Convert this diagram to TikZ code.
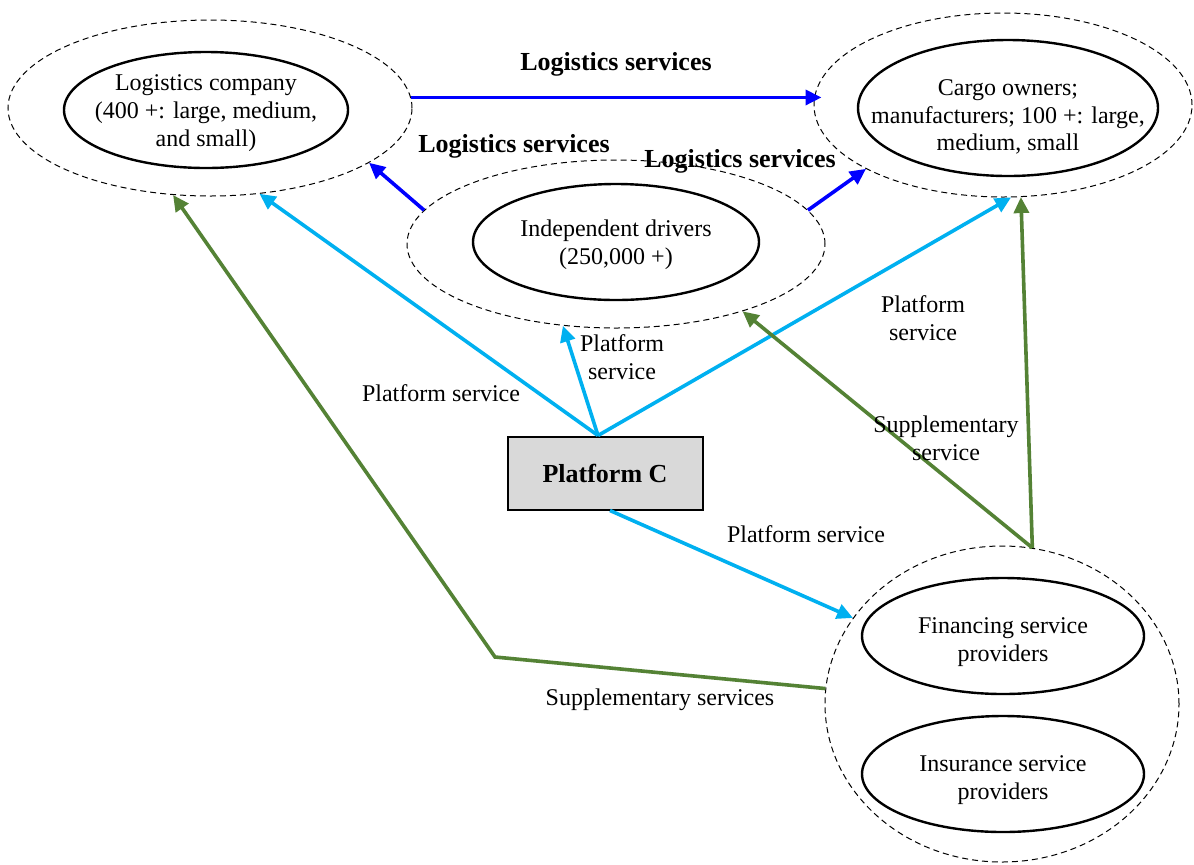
\documentclass[tikz,border=0pt]{standalone}
\usepackage{fontspec}
\setmainfont{Liberation Serif}
\usepackage{tikz}
\usetikzlibrary{arrows.meta,shapes.geometric,calc}
\definecolor{darkBlue}{HTML}{0000FF}
\definecolor{skyBlue}{HTML}{00B0F0}
\definecolor{oliveGreen}{HTML}{548235}
\definecolor{boxGray}{HTML}{D9D9D9}
\tikzset{
  outerEll/.style={ellipse,draw=black,dash pattern=on 3pt off 2pt,line width=0.5pt,inner sep=0pt},
  innerEll/.style={ellipse,draw=black,line width=1.2pt,inner sep=0pt},
  txt/.style={align=center,font=\fontsize{12}{13.8}\selectfont,inner sep=0pt},
  boldTxt/.style={font=\fontsize{13}{15}\selectfont\bfseries,inner sep=0pt},
  flow/.style={line width=1.8pt,-{Triangle[length=8pt,width=7.5pt]}},
  logiFlow/.style={flow,color=darkBlue},
  platFlow/.style={flow,color=skyBlue},
  suppFlow/.style={flow,color=oliveGreen},
}

\begin{document}
\begin{tikzpicture}[x=0.5pt,y=-0.5pt]
\useasboundingbox[fill=white] (0,0) rectangle (1194,864);

\node[outerEll,minimum width=202pt,minimum height=88pt] (lcOuter) at (210,108) {};
\node[innerEll,minimum width=142pt,minimum height=58pt] (lc) at (206,110) {};
\node[txt,yshift=-1.5pt] (lcText) at (lc) {Logistics company\\(400 +: large, medium,\\and small)};

\node[outerEll,minimum width=189pt,minimum height=92pt] (coOuter) at (1003,105) {};
\node[innerEll,minimum width=150pt,minimum height=68pt] (co) at (1008,108) {};
\node[txt,yshift=-4.5pt] (coText) at (co) {Cargo owners;\\manufacturers; 100 +: large,\\medium, small};

\node[outerEll,minimum width=209pt,minimum height=84pt] (drOuter) at (616,244) {};
\node[innerEll,minimum width=143pt,minimum height=58pt] (dr) at (616,242) {};
\node[txt,yshift=-1.5pt] (drText) at (dr) {Independent drivers\\(250,000 +)};

\node[outerEll,minimum width=177pt,minimum height=158pt] (finOuter) at (1002,704) {};
\node[innerEll,minimum width=141pt,minimum height=58pt] (fin) at (1003,636) {};
\node[txt,yshift=-3pt] (finText) at (fin) {Financing service\\providers};
\node[innerEll,minimum width=141pt,minimum height=58pt] (ins) at (1003,774) {};
\node[txt,yshift=-3pt] (insText) at (ins) {Insurance service\\providers};

\node[draw=black,line width=1pt,fill=boxGray,minimum width=97.5pt,minimum height=36.5pt,boldTxt] (pc) at (605,473) {Platform C};

\coordinate (bend) at (495,657);

\draw[logiFlow,shorten >=-4pt] (lcOuter.3) -- (lcOuter.3 -| coOuter.west);
\draw[logiFlow] (drOuter.170.3) -- (lcOuter.-19);
\draw[logiFlow] (drOuter.10.9) -- (coOuter.205.7);

\draw[platFlow] ([xshift=-3.5pt]pc.north) -- (lcOuter.-60.9);
\draw[platFlow] ([xshift=-3.5pt]pc.north) -- (drOuter.-123.2);
\draw[platFlow] ([xshift=-3.5pt]pc.north) -- (coOuter.-85.7);
\draw[platFlow] ([xshift=2.5pt]pc.south) -- (finOuter.150.8);

\draw[suppFlow] (finOuter.79.8) -- (coOuter.-79.9);
\draw[suppFlow] (finOuter.79.8) -- (drOuter.-28.6);
\draw[suppFlow] (finOuter.175.5) -- (bend) -- (lcOuter.-113.5);

\node[boldTxt] (lsTop) at (616,64) {Logistics services};
\node[boldTxt] (lsLeft) at (514,146) {Logistics services};
\node[boldTxt] (lsRight) at (740,161) {Logistics services};
\node[txt] (psLeft) at (441,393) {Platform service};
\node[txt] (psMid) at (622,357) {Platform\\service};
\node[txt] (psRight) at (923,318) {Platform\\service};
\node[txt] (psLow) at (806,534) {Platform service};
\node[txt] (ssRight) at (946,438) {Supplementary\\service};
\node[txt] (ssLow) at (660,700) {Supplementary services};
\end{tikzpicture}
\end{document}
